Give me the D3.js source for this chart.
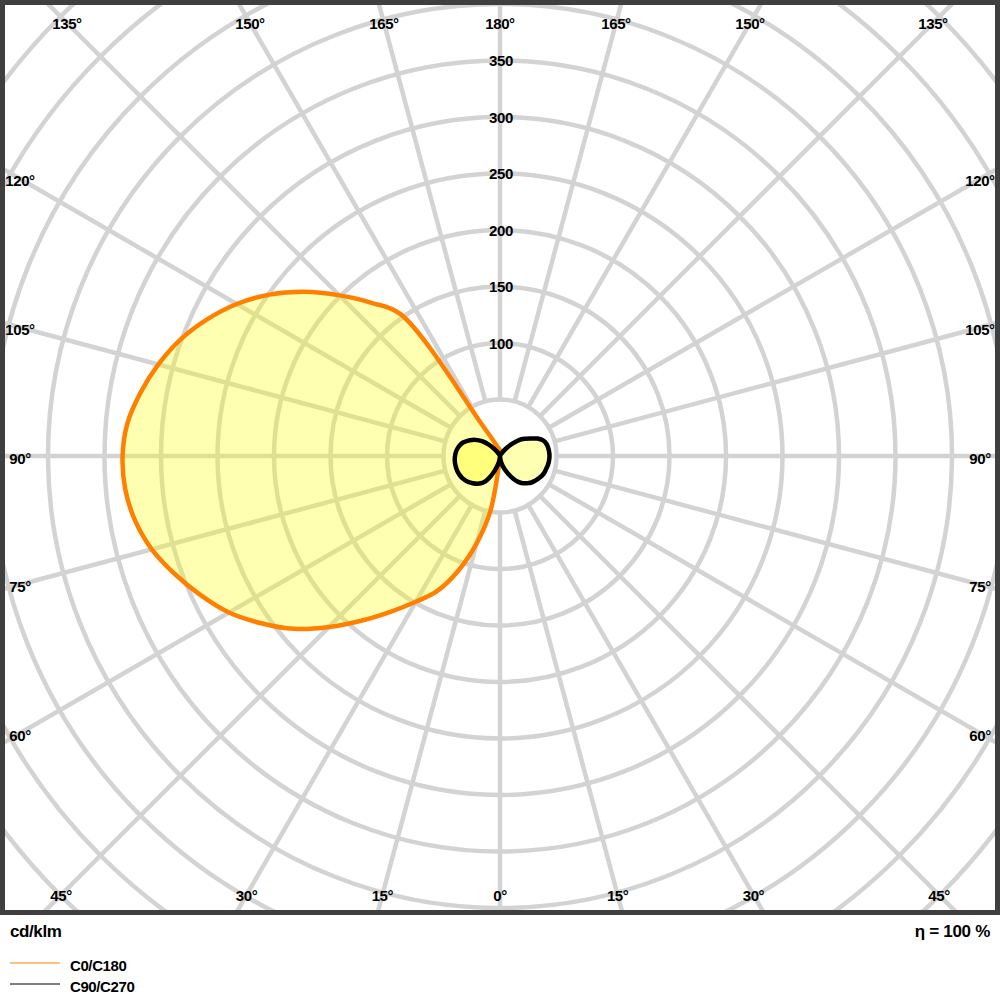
<!DOCTYPE html>
<html>
<head>
<meta charset="utf-8">
<script src="https://cdn.jsdelivr.net/npm/d3@7"></script>
<style>
  html, body { margin: 0; padding: 0; background: #fff; }
  svg { display: block; }
  text { font-family: "Liberation Sans", Arial, sans-serif; font-weight: bold; fill: #000; }
</style>
</head>
<body>
<svg id="chart" width="1000" height="1000"></svg>
<script>
// ---------- data (cd/klm) ----------
const gammaAngles = [0,5,10,15,20,25,30,35,40,45,50,55,60,65,70,75,80,85,90,
                     95,100,105,110,115,120,125,130,135,140,145,150,155,160,165,170,175,180];
// C0/C180 plane
const c0Values   = [0,0,0,0,0,0,0,0,0,0,0,0,0,0,0,0,0,0,0,
                    0,0,0,0,0,0,0,0,0,0,0,0,0,0,0,0,0,5];
const c180Values = [0,3,50,80,108,132,149,168,190,214,238,258,277,292,306,319,328,333,334,
                    331,323,313,301,286,269,249,226,201,177,153,33,17,11,8,7,6,5];
// C90/C270 plane
const c90Values  = [0,2,5,9,13,17.5,23,28,31.5,34,36.5,38,39.5,41,42,42.5,43.2,43.6,43.8,
                    43.6,43.2,42.4,40.5,36.5,31,26.5,22,15.5,9.5,5,2,0.5,0,0,0,0,0];
const c270Values = [0,2,5,9,14,20,26,29.5,32,34,36,37.5,38.8,39.5,40,40.2,40.3,40.2,39.8,
                    39.2,38.2,36.8,34.8,31.8,28.5,24.5,20,14.5,9,5,2,0.5,0,0,0,0,0];
const ringValues = [50,100,150,200,250,300,350,400,450,500,550,600];
const ringLabels = ["100","150","200","250","300","350"];
const spokeAngles = d3.range(0, 360, 15);
const angleLabelText = {0:"0°",15:"15°",30:"30°",45:"45°",60:"60°",75:"75°",90:"90°",105:"105°",
  120:"120°",135:"135°",150:"150°",165:"165°",180:"180°"};
const unitLabel = "cd/klm";
const etaLabel = "η = 100 %";
const legendNames = ["C0/C180", "C90/C270"];

// ---------- layout ----------
const svg = d3.select("#chart");
const cx = 500, cy = 456;
const r = d3.scaleLinear().domain([0, 50]).range([0, 56.5]);
const plot = {x0: 5, y0: 5, x1: 995, y1: 910};

svg.append("rect").attr("width", 1000).attr("height", 1000).attr("fill", "#fff");

svg.append("clipPath").attr("id", "clip")
  .append("rect").attr("x", plot.x0).attr("y", plot.y0)
  .attr("width", plot.x1 - plot.x0).attr("height", plot.y1 - plot.y0);

const g = svg.append("g").attr("clip-path", "url(#clip)");
const center = g.append("g").attr("transform", `translate(${cx},${cy})`);

// rings
center.selectAll("circle.ring").data(ringValues).join("circle")
  .attr("class", "ring").attr("r", d => r(d))
  .attr("fill", "none").attr("stroke", "#d3d3d3").attr("stroke-width", 4.5);

// spokes (angle measured from down, toward left)
center.selectAll("line.spoke").data(spokeAngles).join("line")
  .attr("class", "spoke")
  .attr("x1", d => r(50) * Math.sin(d * Math.PI / 180))
  .attr("y1", d => r(50) * Math.cos(d * Math.PI / 180))
  .attr("x2", d => r(700) * Math.sin(d * Math.PI / 180))
  .attr("y2", d => r(700) * Math.cos(d * Math.PI / 180))
  .attr("stroke", "#d3d3d3").attr("stroke-width", 4.5);

// closed radial curve: angle a clockwise from up (d3 convention)
function planePoints(rightVals, leftVals) {
  const pts = [];
  for (let i = gammaAngles.length - 1; i >= 0; i--) {
    pts.push([Math.PI - gammaAngles[i] * Math.PI / 180, rightVals[i]]);
  }
  for (let i = 1; i < gammaAngles.length - 1; i++) {
    pts.push([Math.PI + gammaAngles[i] * Math.PI / 180, leftVals[i]]);
  }
  return pts;
}
const radial = d3.lineRadial()
  .angle(d => d[0]).radius(d => r(d[1]))
  .curve(d3.curveCatmullRomClosed.alpha(0.5));

const planeC0 = planePoints(c0Values, c180Values);
const planeC90 = planePoints(c90Values, c270Values);

center.append("path").attr("d", radial(planeC0))
  .attr("fill", "#ffff00").attr("fill-opacity", 0.3).attr("stroke", "none");
center.append("path").attr("d", radial(planeC90))
  .attr("fill", "#ffff00").attr("fill-opacity", 0.3).attr("stroke", "none");
center.append("path").attr("d", radial(planeC0))
  .attr("fill", "none").attr("stroke", "#ff8000").attr("stroke-width", 4.5)
  .attr("stroke-linejoin", "round");
center.append("path").attr("d", radial(planeC90))
  .attr("fill", "none").attr("stroke", "#000").attr("stroke-width", 4.5)
  .attr("stroke-linejoin", "round");

// ring labels
svg.selectAll("text.ringlab").data(ringLabels).join("text")
  .attr("class", "ringlab")
  .attr("x", cx + 1).attr("y", d => cy - r(+d))
  .attr("text-anchor", "middle").attr("dominant-baseline", "central")
  .style("font-size", "15px").style("letter-spacing", "-0.4px")
  .text(d => d);

// angle labels at edge of plot
const lab = {x0: 20, x1: 980, y0: 23, y1: 895};
const angleLabels = [];
spokeAngles.forEach(a => {
  const rad = a * Math.PI / 180;
  const dx = Math.sin(rad), dy = Math.cos(rad);
  let t = Infinity, side = false;
  const cand = [];
  if (dx > 1e-9) cand.push([(cx - lab.x0) / dx, true]);
  if (dx < -1e-9) cand.push([(lab.x1 - cx) / -dx, true]);
  if (dy > 1e-9) cand.push([(lab.y1 - cy) / dy, false]);
  if (dy < -1e-9) cand.push([(cy - lab.y0) / -dy, false]);
  cand.forEach(c => { if (c[0] < t) { t = c[0]; side = c[1]; } });
  const gam = a <= 180 ? a : 360 - a;
  angleLabels.push({x: cx - dx * t, y: cy + dy * t + (side ? 2 : 0), text: angleLabelText[gam]});
});
svg.selectAll("text.anglab").data(angleLabels).join("text")
  .attr("class", "anglab")
  .attr("x", d => d.x).attr("y", d => d.y)
  .attr("text-anchor", "middle").attr("dominant-baseline", "central")
  .style("font-size", "15px").style("letter-spacing", "-0.4px")
  .text(d => d.text);

// frame
svg.append("rect").attr("x", 2.5).attr("y", 2.5).attr("width", 995).attr("height", 910)
  .attr("fill", "none").attr("stroke", "#3f3f3f").attr("stroke-width", 5);

// footer
svg.append("text").attr("x", 10).attr("y", 931).attr("dominant-baseline", "central")
  .style("font-size", "17px").style("letter-spacing", "-0.4px").text(unitLabel);
svg.append("text").attr("x", 990).attr("y", 931).attr("dominant-baseline", "central")
  .attr("text-anchor", "end")
  .style("font-size", "17px").style("letter-spacing", "-0.3px").text(etaLabel);

const legendColors = ["#ff8000", "#000000"];
const legend = svg.selectAll("g.leg").data(legendNames).join("g")
  .attr("class", "leg")
  .attr("transform", (d, i) => `translate(10,${963 + i * 21})`);
legend.append("line").attr("x1", 0).attr("x2", 50).attr("y1", 0).attr("y2", 0)
  .attr("stroke", (d, i) => legendColors[i]).attr("stroke-width", 1);
legend.append("text").attr("x", 60).attr("y", 2).attr("dominant-baseline", "central")
  .style("font-size", "15px").style("letter-spacing", "-0.4px").text(d => d);
</script>
</body>
</html>
